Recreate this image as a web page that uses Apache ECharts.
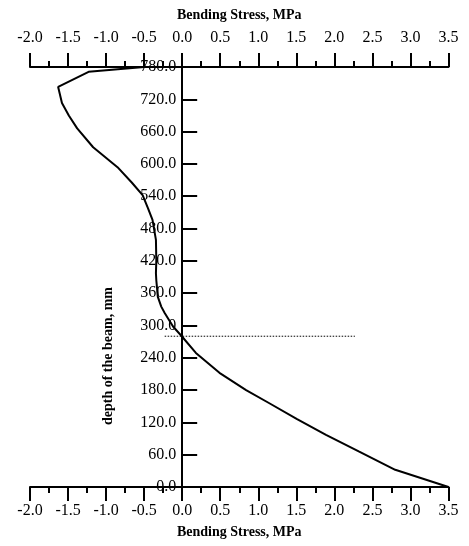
<!DOCTYPE html>
<html>
<head>
<meta charset="utf-8">
<script src="https://cdn.jsdelivr.net/npm/echarts@6/dist/echarts.min.js"></script>
<style>html,body{margin:0;padding:0;background:#fff}#c{width:469px;height:546px}</style>
</head>
<body>
<div id="c"></div>
<script>
// Data
const depth  = [780, 771, 743, 713, 690, 666, 631, 594, 565, 542, 518, 496, 459, 420, 397, 384, 353, 335, 323, 298, 279, 249, 212, 180, 156, 126, 97, 66, 32, 0];
const stress = [-0.5, -1.23, -1.63, -1.58, -1.49, -1.38, -1.17, -0.85, -0.66, -0.52, -0.45, -0.39, -0.345, -0.34, -0.345, -0.34, -0.32, -0.275, -0.23, -0.12, 0.0, 0.18, 0.49, 0.84, 1.14, 1.51, 1.89, 2.32, 2.80, 3.5];
const neutralDepth = 280;
const neutralX = [-0.23, 2.27];
const xTitle = 'Bending Stress, MPa';
const yTitle = 'depth of the beam, mm';
const neutralLabel = 'Nuetral Axis';

const FONT = '"Liberation Serif", "Times New Roman", serif';
const chart = echarts.init(document.getElementById('c'));

const GL = 30, GR = 20.5, W = 469 - GL - GR;
const XMIN = -2, XMAX = 3.5;

function xAxisDef(pos) {
  return {
    type: 'value', position: pos, min: XMIN, max: XMAX, interval: 0.5,
    name: xTitle, nameLocation: 'middle',
    nameGap: pos === 'top' ? 45 : 38,
    nameTextStyle: { fontFamily: FONT, fontWeight: 'bold', fontSize: 14, color: '#000' },
    axisLine: { show: true, onZero: false, lineStyle: { color: '#000', width: 2 } },
    axisTick: { show: true, length: 14, lineStyle: { color: '#000', width: 2 } },
    minorTick: { show: true, splitNumber: 2, length: 6, lineStyle: { color: '#000', width: 2 } },
    axisLabel: { fontFamily: FONT, fontSize: 16, color: '#000', margin: pos === 'top' ? 21 : 16,
      formatter: v => v.toFixed(1) },
    splitLine: { show: false }
  };
}

chart.setOption({
  animation: false,
  grid: { left: GL, right: GR, top: 67, bottom: 59, outerBoundsMode: 'none', containLabel: false },
  xAxis: [xAxisDef('bottom'), xAxisDef('top')],
  yAxis: {
    type: 'value', min: 0, max: 780, interval: 60, position: 'left',
    offset: -W * (0 - XMIN) / (XMAX - XMIN),
    axisLine: { show: true, onZero: false, lineStyle: { color: '#000', width: 2 } },
    axisTick: { show: true, inside: true, length: 15, lineStyle: { color: '#000', width: 2 } },
    axisLabel: { fontFamily: FONT, fontSize: 16, color: '#000', margin: 6, formatter: v => v.toFixed(1) },
    splitLine: { show: false }
  },
  graphic: [{
    type: 'text', x: 108, y: 356, rotation: Math.PI / 2,
    style: { text: yTitle, font: 'bold 14px ' + FONT, fill: '#000', textAlign: 'center', textVerticalAlign: 'middle' }
  }],
  series: [{
    type: 'line', xAxisIndex: 0, symbol: 'none', smooth: false,
    lineStyle: { color: '#000', width: 2 },
    data: stress.map((s, i) => [s, depth[i]])
  }, {
    type: 'line', xAxisIndex: 0, symbol: 'none',
    lineStyle: { color: '#000', width: 1, type: [1.5, 1.5] },
    data: [[neutralX[0], neutralDepth], {
      value: [neutralX[1], neutralDepth],
      label: { show: true, position: 'top', offset: [-29, -3], formatter: neutralLabel,
        fontFamily: FONT, fontWeight: 'bold', fontSize: 12, color: '#000' }
    }]
  }]
});
</script>
</body>
</html>
